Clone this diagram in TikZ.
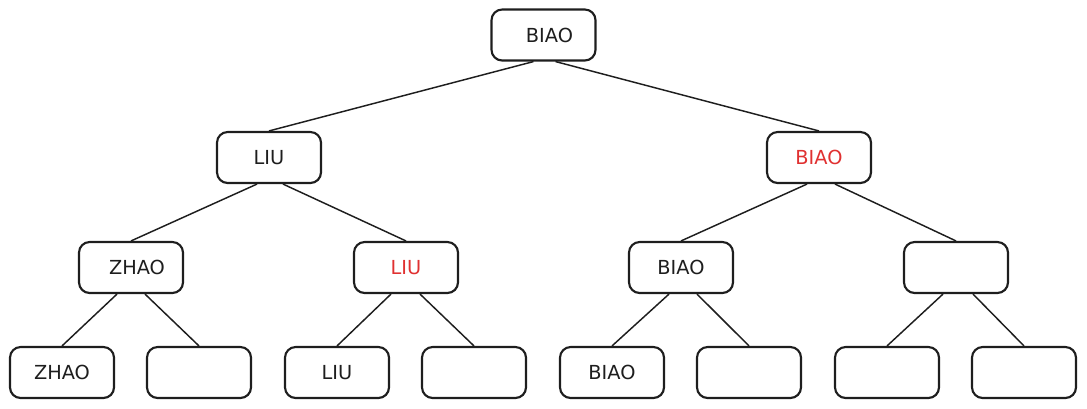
\documentclass[tikz,border=0pt]{standalone}
\usepackage{fontspec}
\setmainfont{DejaVu Sans}
\usetikzlibrary{calc}
\definecolor{exred}{HTML}{E03131}
\definecolor{ink}{HTML}{1E1E1E}
\tikzset{
  tbox/.style={draw=ink, line width=1.6pt, rounded corners=8pt, minimum width=104*0.75pt, minimum height=51*0.75pt, inner sep=0pt, font=\fontsize{14.5}{16}\selectfont, text=ink},
  redtext/.style={text=exred},
  link/.style={draw=ink, line width=1.1pt}
}
\begin{document}
\begin{tikzpicture}[x=0.75pt,y=-0.75pt]
\useasboundingbox (0,0) rectangle (1087,408);
% level 1
\node[tbox] (r) at (543.5,35) {\hspace*{9pt}BIAO};
% level 2
\node[tbox] (l) at (269,157.5) {LIU};
\node[tbox,redtext] (rr) at (819,157.5) {BIAO};
% level 3
\node[tbox] (ll) at (131,267.5) {\hspace*{9pt}ZHAO};
\node[tbox,redtext] (lr) at (406,267.5) {LIU};
\node[tbox] (rl) at (681,267.5) {BIAO};
\node[tbox] (rrr) at (956,267.5) {};
% level 4
\node[tbox] (a1) at (62,372.5) {ZHAO};
\node[tbox] (a2) at (199,372.5) {};
\node[tbox] (a3) at (337,372.5) {LIU};
\node[tbox] (a4) at (474,372.5) {};
\node[tbox] (a5) at (612,372.5) {BIAO};
\node[tbox] (a6) at (749,372.5) {};
\node[tbox] (a7) at (887,372.5) {};
\node[tbox] (a8) at (1024,372.5) {};
% links
\draw[link] ($(r.south)+(-10,0)$) -- (l.north);
\draw[link] ($(r.south)+(12,0)$) -- (rr.north);
\draw[link] ($(l.south)+(-12,0)$) -- (ll.north);
\draw[link] ($(l.south)+(14,0)$) -- (lr.north);
\draw[link] ($(rr.south)+(-12,0)$) -- (rl.north);
\draw[link] ($(rr.south)+(16,0)$) -- (rrr.north);
\draw[link] ($(ll.south)+(-14,0)$) -- (a1.north);
\draw[link] ($(ll.south)+(14,0)$) -- (a2.north);
\draw[link] ($(lr.south)+(-15,0)$) -- (a3.north);
\draw[link] ($(lr.south)+(14,0)$) -- (a4.north);
\draw[link] ($(rl.south)+(-12,0)$) -- (a5.north);
\draw[link] ($(rl.south)+(16,0)$) -- (a6.north);
\draw[link] ($(rrr.south)+(-13,0)$) -- (a7.north);
\draw[link] ($(rrr.south)+(17,0)$) -- (a8.north);
\end{tikzpicture}
\end{document}
